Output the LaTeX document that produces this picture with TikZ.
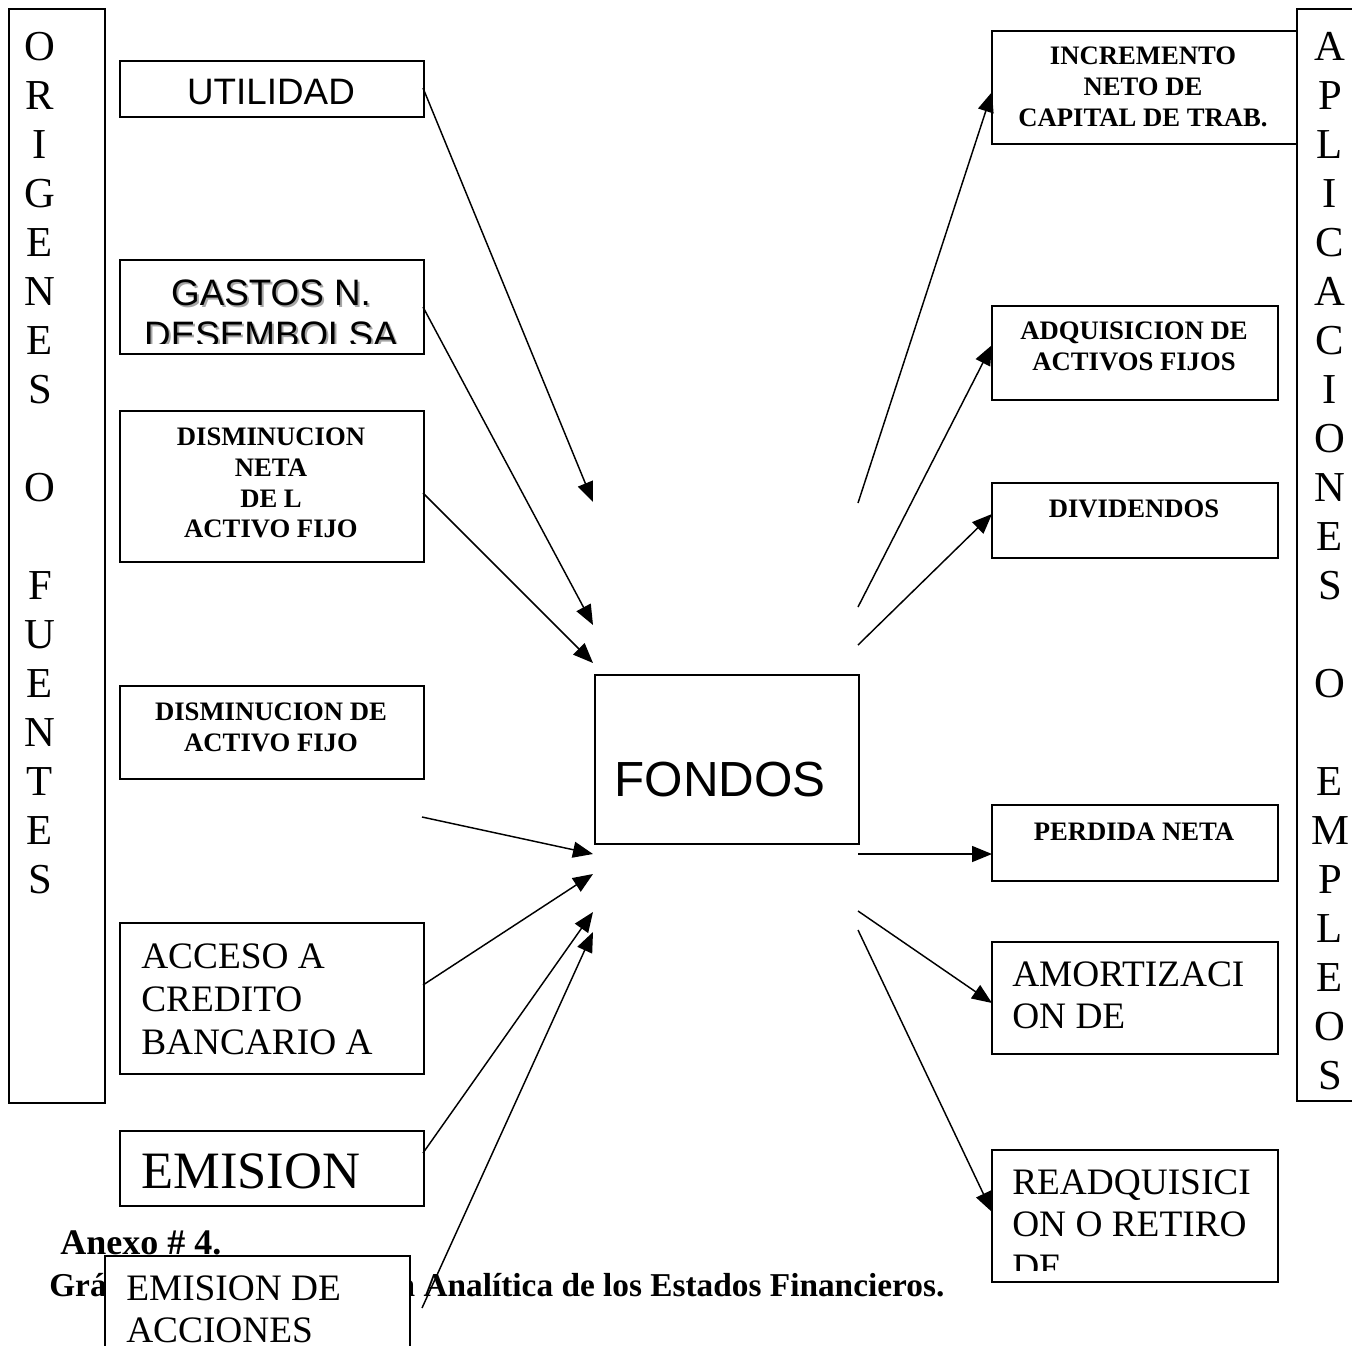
\documentclass[tikz,border=0pt]{standalone}
\usepackage{fontspec}
\setmainfont{Liberation Serif}
\newfontfamily\arialfont{Liberation Sans}
\usetikzlibrary{arrows.meta}

\tikzset{
  caja/.style={draw, line width=1.3pt, fill=white, anchor=north west, inner sep=0pt},
  tam/.style 2 args={minimum width=#1*0.75pt, minimum height=#2*0.75pt},
  flecha/.style={line width=1.1pt, -{Triangle[length=15pt,width=12pt]}},
  chico/.style={font=\fontsize{20}{23}\selectfont\bfseries, align=center, anchor=north, inner sep=0pt},
  medio/.style={font=\fontsize{28}{32}\selectfont, align=left, anchor=north west, inner sep=0pt},
  sans/.style={font=\arialfont\fontsize{27.6}{31.5}\selectfont, align=center, anchor=north, inner sep=0pt},
  letras/.style={font=\fontsize{32}{36.75}\selectfont, align=center, anchor=north, inner sep=0pt},
  rotulo/.style={font=\fontsize{25}{30}\selectfont\bfseries, anchor=base west, inner sep=0pt}
}

\begin{document}
\begin{tikzpicture}[x=0.75pt,y=0.75pt,yscale=-1,xscale=1]
\useasboundingbox (0,0) rectangle (1352,1345);

\node (origenes) [caja, tam={96}{1094}] at (8,8) {};
\node (aplicaciones) [caja, tam={100}{1092}] at (1296,8) {};
\node (txtorigenes) [letras] at (40,32) {O\\R\\I\\G\\E\\N\\E\\S\\\mbox{}\\O\\\mbox{}\\F\\U\\E\\N\\T\\E\\S};
\node (txtaplicaciones) [letras] at (1330,32) {A\\P\\L\\I\\C\\A\\C\\I\\O\\N\\E\\S\\\mbox{}\\O\\\mbox{}\\E\\M\\P\\L\\E\\O\\S};

\node (utilidad) [caja, tam={304}{56}] at (119,60) {};
\node (gastos) [caja, tam={304}{94}] at (119,259) {};
\node (dismneta) [caja, tam={304}{151}] at (119,410) {};
\node (dismactivo) [caja, tam={304}{93}] at (119,685) {};
\node (acceso) [caja, tam={304}{151}] at (119,922) {};
\node (emision) [caja, tam={304}{75}] at (119,1130) {};

\node (txtutilidad) [sans] at (271,79) {UTILIDAD};
\begin{scope}
\clip (119,259) rectangle (423,343);
\node (sombragastos) [sans, text=black!35] at (273,282) {GASTOS N.\\DESEMBOLSA};
\node (txtgastos) [sans] at (271,280) {GASTOS N.\\DESEMBOLSA};
\end{scope}
\node (txtdismneta) [chico] at (271,428) {DISMINUCION\\NETA\\DE L\\ACTIVO FIJO};
\node (txtdismactivo) [chico] at (271,703) {DISMINUCION DE\\ACTIVO FIJO};
\node (txtacceso) [medio] at (141,944) {ACCESO A\\CREDITO\\BANCARIO A};
\node (txtemision) [medio, font=\fontsize{39.4}{45}\selectfont] at (141,1153) {EMISION};

\node (anexo) [rotulo, font=\fontsize{27}{30}\selectfont\bfseries] at (60,1254) {Anexo \# 4.};
\node (grafica) [rotulo] at (49,1296) {Gráfico de Interpretación Analítica de los Estados Financieros.};

\node (acciones) [caja, tam={305}{120}] at (104,1255) {};
\node (txtacciones) [medio] at (126,1275) {EMISION DE\\ACCIONES};

\node (fondos) [caja, tam={264}{169}] at (594,674) {};
\node (txtfondos) [sans, font=\arialfont\fontsize{37}{42}\selectfont] at (720,762) {FONDOS};

\node (incremento) [caja, tam={305}{113}] at (991,30) {};
\node (adquisicion) [caja, tam={286}{94}] at (991,305) {};
\node (dividendos) [caja, tam={286}{75}] at (991,482) {};
\node (perdida) [caja, tam={286}{76}] at (991,804) {};
\node (amortizacion) [caja, tam={286}{112}] at (991,941) {};
\node (readquisicion) [caja, tam={286}{132}] at (991,1149) {};

\node (txtincremento) [chico] at (1143,47) {INCREMENTO\\NETO DE\\CAPITAL DE TRAB.};
\node (txtadquisicion) [chico] at (1134,322) {ADQUISICION DE\\ACTIVOS FIJOS};
\node (txtdividendos) [chico] at (1134,500) {DIVIDENDOS};
\node (txtperdida) [chico] at (1134,823) {PERDIDA NETA};
\node (txtamortizacion) [medio] at (1012,961) {AMORTIZACI\\ON DE};
\begin{scope}
\clip (991,1149) rectangle (1277,1270);
\node (txtreadquisicion) [medio] at (1012,1169) {READQUISICI\\ON O RETIRO\\DE};
\end{scope}

\coordinate (s1) at (423,88);
\coordinate (s2) at (423,307);
\coordinate (s3) at (423,493);
\coordinate (s4) at (422,817);
\coordinate (s5) at (423,985);
\coordinate (s6) at (423,1153);
\coordinate (s7) at (422,1308);
\coordinate (e1) at (593,502);
\coordinate (e2) at (593,625);
\coordinate (e3) at (593,663);
\coordinate (e4) at (593,854);
\coordinate (e5) at (593,874);
\coordinate (e6) at (593,912);
\coordinate (e7) at (593,932);

\coordinate (f1) at (858,503);
\coordinate (f2) at (858,607);
\coordinate (f3) at (858,645);
\coordinate (f4) at (858,854);
\coordinate (f5) at (858,911);
\coordinate (f6) at (858,930);
\coordinate (d1) at (992,92);
\coordinate (d2) at (992,345);
\coordinate (d3) at (992,514);
\coordinate (d4) at (992,854);
\coordinate (d5) at (992,1003);
\coordinate (d6) at (992,1212);

\foreach \i in {1,...,7} {\draw [flecha] (s\i) -- (e\i);}
\foreach \i in {1,...,6} {\draw [flecha] (f\i) -- (d\i);}

\end{tikzpicture}
\end{document}
